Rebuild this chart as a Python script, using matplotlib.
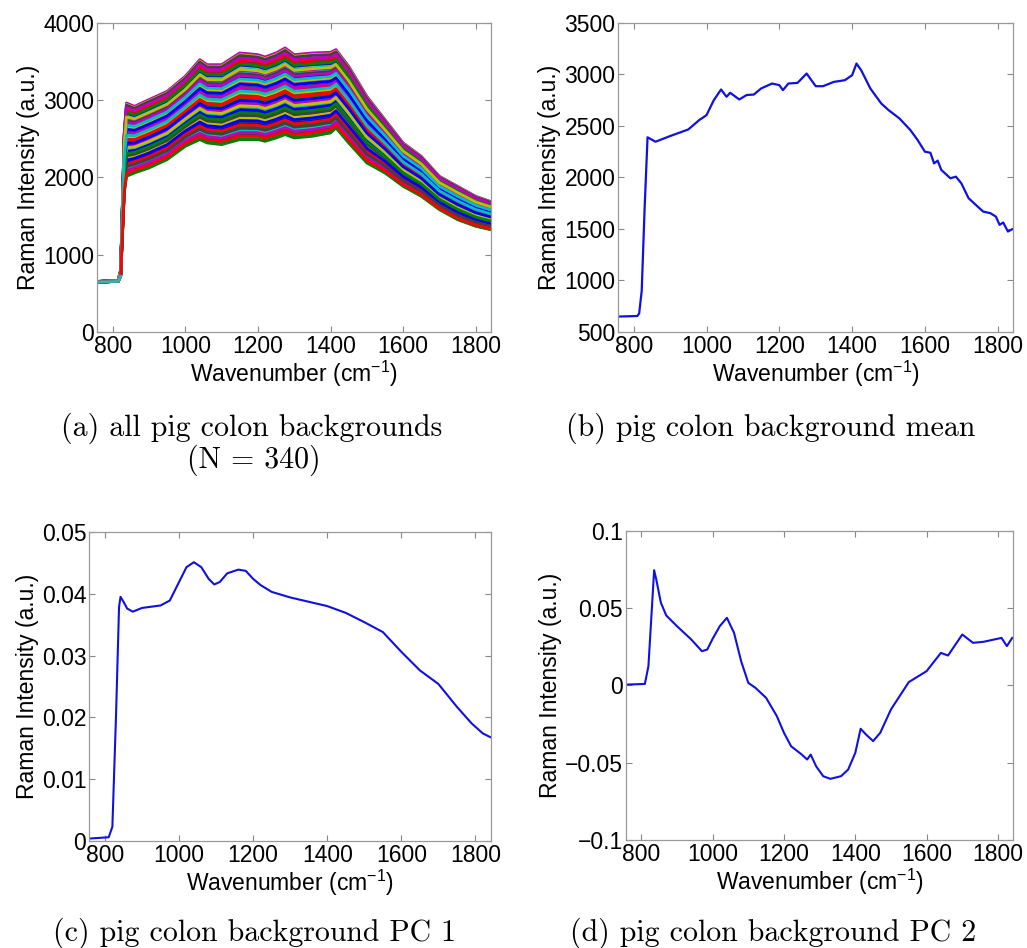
import numpy as np
import matplotlib
matplotlib.use("Agg")
import matplotlib.pyplot as plt

plt.rcParams['font.family'] = ['Liberation Sans', 'DejaVu Sans']
plt.rcParams['mathtext.fontset'] = 'custom'
plt.rcParams['mathtext.rm'] = 'Liberation Sans'
plt.rcParams['mathtext.it'] = 'Liberation Sans:italic'

# envelope of all background spectra (panel a)
wn_all = [760, 815, 822, 832, 838, 860, 900, 950, 1000, 1040, 1060, 1100, 1150, 1200, 1220,
          1250, 1275, 1300, 1350, 1400, 1415, 1450, 1500, 1550, 1600, 1650, 1700, 1750, 1800, 1840]
lower_all = [645, 655, 720, 1800, 2015, 2058, 2123, 2231, 2403, 2490, 2447, 2425, 2490, 2490, 2468,
             2511, 2555, 2511, 2533, 2576, 2641, 2447, 2188, 2058, 1886, 1756, 1584, 1454, 1368, 1325]
upper_all = [655, 665, 800, 2600, 2964, 2921, 3008, 3115, 3310, 3525, 3460, 3460, 3612, 3590, 3560,
             3612, 3677, 3590, 3612, 3620, 3655, 3440, 3050, 2749, 2447, 2274, 2015, 1886, 1756, 1691]
# position of each spectrum (in acquisition order) between the lowest (0) and highest (1) one
spread = [1.00, 0.55, 0.20, 0.85, 0.05, 0.40, 0.70,
          0.30, 0.95, 0.62, 0.12, 0.00, 0.78, 0.48,
          0.66, 0.18, 0.90, 0.44, 0.27, 0.82, 0.09,
          0.15, 0.72, 0.36, 0.98, 0.58, 0.23, 0.88,
          0.80, 0.03, 0.52, 0.25, 0.93, 0.64, 0.33,
          0.42, 0.86, 0.07, 0.68, 0.14, 0.96, 0.57,
          0.60, 0.34, 0.76, 0.02, 0.46, 0.11, 0.92,
          0.08, 0.64, 0.28, 0.54, 0.87, 0.38, 0.17,
          0.74, 0.22, 0.97, 0.39, 0.01, 0.70, 0.50,
          0.94, 0.45, 0.13, 0.81, 0.31, 0.56, 0.04]

# mean background spectrum (panel b)
wn_mean = [760, 810, 815, 822, 830, 838, 860, 900, 950, 980, 1000, 1020, 1040, 1055, 1065,
           1090, 1110, 1130, 1150, 1180, 1200, 1210, 1225, 1250, 1275, 1300, 1320, 1350,
           1380, 1400, 1412, 1425, 1450, 1480, 1500, 1530, 1560, 1580, 1600, 1615, 1625,
           1635, 1645, 1670, 1685, 1700, 1720, 1740, 1760, 1780, 1795, 1805, 1815, 1828, 1840]
mean_int = [650, 655, 680, 900, 1700, 2390, 2347, 2402, 2466, 2557, 2605, 2750, 2854, 2783, 2822,
            2757, 2800, 2805, 2864, 2912, 2896, 2848, 2912, 2918, 3009, 2886, 2886, 2928,
            2944, 2993, 3106, 3040, 2864, 2718, 2654, 2573, 2460, 2363, 2250, 2240, 2137,
            2163, 2073, 1992, 2008, 1943, 1798, 1733, 1669, 1653, 1620, 1540, 1563, 1475, 1498]

# PC 1 (panel c)
wn_pc1 = [760, 810, 820, 830, 838, 842, 850, 860, 875, 900, 950, 975, 1000, 1020, 1040, 1060,
          1080, 1095, 1110, 1130, 1160, 1180, 1200, 1220, 1250, 1300, 1350, 1400, 1450, 1500,
          1550, 1600, 1650, 1700, 1750, 1790, 1820, 1840]
pc1 = [0.0004, 0.0006, 0.0023, 0.0206, 0.0379, 0.0395, 0.0387, 0.0376, 0.0371, 0.0377, 0.0381,
       0.0389, 0.0419, 0.0443, 0.0451, 0.0443, 0.0424, 0.0415, 0.0419, 0.0433, 0.0439, 0.0437,
       0.0424, 0.0414, 0.0403, 0.0394, 0.0387, 0.0380, 0.0369, 0.0354, 0.0338, 0.0306, 0.0276,
       0.0254, 0.0217, 0.0190, 0.0174, 0.0168]

# PC 2 (panel d)
wn_pc2 = [760, 810, 820, 830, 836, 842, 855, 870, 900, 940, 970, 985, 1000, 1020, 1040, 1060,
          1080, 1100, 1120, 1150, 1180, 1200, 1220, 1250, 1265, 1275, 1290, 1310, 1330, 1360,
          1380, 1400, 1415, 1430, 1450, 1470, 1500, 1550, 1600, 1640, 1660, 1700, 1730, 1760,
          1790, 1810, 1825, 1840]
pc2 = [0.0006, 0.001, 0.0125, 0.0513, 0.0746, 0.0686, 0.0535, 0.0453, 0.0384, 0.0298, 0.0222,
       0.0233, 0.0302, 0.0384, 0.0438, 0.0341, 0.0157, 0.0017, -0.0015, -0.008, -0.0198, -0.0306,
       -0.0393, -0.0447, -0.0479, -0.0447, -0.0522, -0.0587, -0.0604, -0.0587, -0.0544, -0.0436,
       -0.028, -0.0317, -0.036, -0.0306, -0.0155, 0.0022, 0.0093, 0.0211, 0.0194, 0.033, 0.0276,
       0.0283, 0.0298, 0.0308, 0.0255, 0.0308]

xticks = [800, 1000, 1200, 1400, 1600, 1800]
yticks_a = [0, 1000, 2000, 3000, 4000]
yticks_b = [500, 1000, 1500, 2000, 2500, 3000, 3500]
yticks_c = [0, 0.01, 0.02, 0.03, 0.04, 0.05]
yticklabels_c = ['0', '0.01', '0.02', '0.03', '0.04', '0.05']
yticks_d = [-0.1, -0.05, 0, 0.05, 0.1]
yticklabels_d = ['\u22120.1', '\u22120.05', '0', '0.05', '0.1']

captions = ['(a) all pig colon backgrounds', '(b) pig colon background mean',
            '(c) pig colon background PC 1', '(d) pig colon background PC 2']

# old MATLAB colour order, starting at magenta so the top spectrum matches
matlab_colors = [(0.75, 0, 0.75), (0, 0, 1), (0.25, 0.25, 0.25), (0.75, 0.75, 0),
                 (0, 0.5, 0), (0, 0.75, 0.75), (1, 0, 0)]

fig = plt.figure(figsize=(10.27, 9.48), dpi=100)
ax_a = fig.add_axes([0.0945, 0.6498, 0.3836, 0.326])
ax_b = fig.add_axes([0.6018, 0.6498, 0.3846, 0.326])
ax_c = fig.add_axes([0.0867, 0.1129, 0.3914, 0.326])
ax_d = fig.add_axes([0.6095, 0.1139, 0.3768, 0.326])


def style(ax, yticks, ylim, ylabels=None):
    ax.set_xlim(757, 1842)
    ax.set_ylim(*ylim)
    ax.set_xticks(xticks)
    ax.set_yticks(yticks)
    if ylabels is not None:
        ax.set_yticklabels(ylabels)
    ax.tick_params(direction='in', length=4, width=0.8, color='#888888', labelsize=16.5,
                   top=True, right=True, pad=2)
    for s in ax.spines.values():
        s.set_color('#999999')
        s.set_linewidth(0.9)
    ax.set_xlabel('Wavenumber (cm$^{-1}$)', fontsize=16.5, labelpad=1)
    ax.set_ylabel('Raman Intensity (a.u.)', fontsize=16.5, labelpad=2)


lo = np.array(lower_all, dtype=float)
hi = np.array(upper_all, dtype=float)
for i, f in enumerate(spread):
    ax_a.plot(wn_all, lo + f * (hi - lo), color=matlab_colors[i % 7], lw=2.0)
ax_a.plot(wn_all[:3], lo[:3], color=(0.2, 0.7, 0.7), lw=2.0)
style(ax_a, yticks_a, (0, 4000))

ax_b.plot(wn_mean, mean_int, color='#1010e0', lw=1.6)
style(ax_b, yticks_b, (500, 3500))

ax_c.plot(wn_pc1, pc1, color='#1010e0', lw=1.5)
style(ax_c, yticks_c, (0, 0.05), yticklabels_c)

ax_d.plot(wn_pc2, pc2, color='#1010e0', lw=1.5)
style(ax_d, yticks_d, (-0.1, 0.1), yticklabels_d)

cap = dict(fontfamily='cmr10', fontsize=21.5, ha='center', va='center')
fig.text(0.245, 0.5485, captions[0], **cap)
fig.text(0.247, 0.5148, '(N = 340)', **cap)
fig.text(0.750, 0.5485, captions[1], **cap)
fig.text(0.248, 0.016, captions[2], **cap)
fig.text(0.753, 0.016, captions[3], **cap)

fig.savefig('out.png', dpi=100)
